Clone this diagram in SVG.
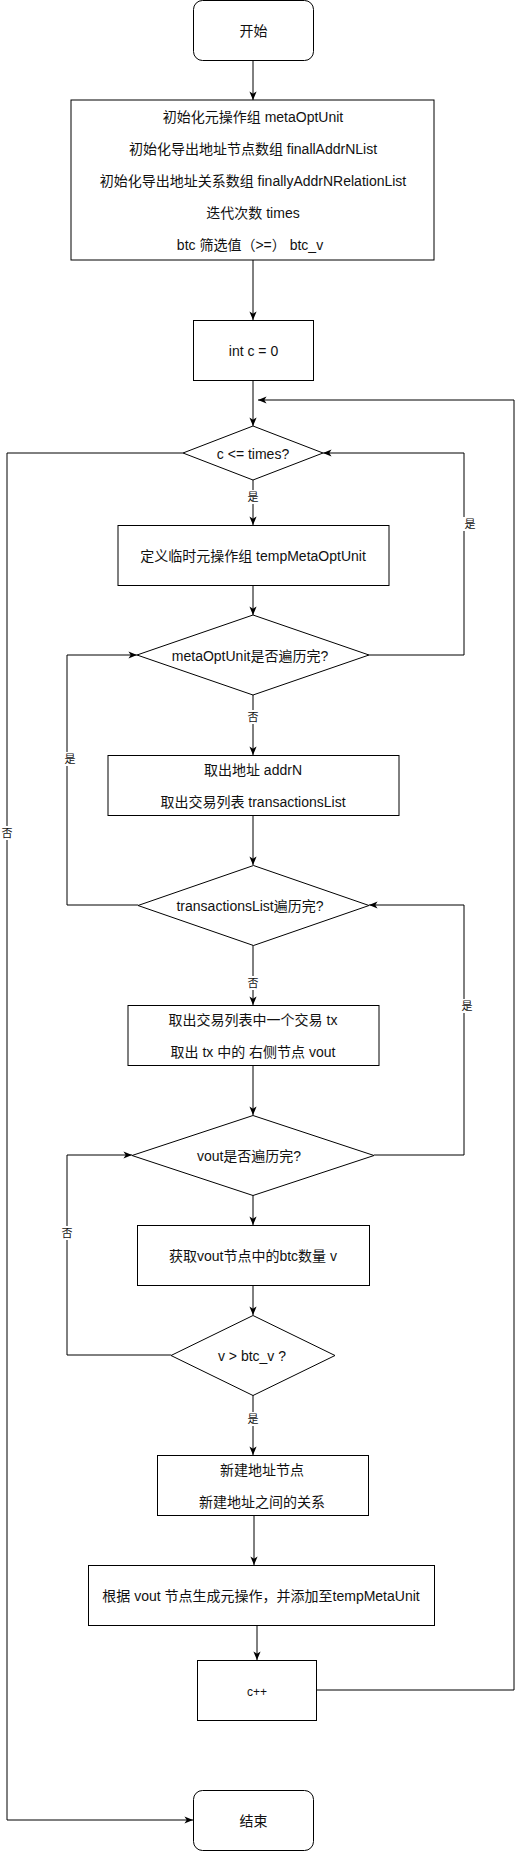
<svg xmlns="http://www.w3.org/2000/svg" width="526" height="1851" viewBox="0 0 526 1851">
<defs>
<marker id="arr" viewBox="0 0 10 10" refX="10" refY="5" markerWidth="9" markerHeight="9" markerUnits="userSpaceOnUse" orient="auto">
<path d="M0.5,1 L10,5 L0.5,9 L3,5 z" fill="#000"/>
</marker>
<style>
.n{fill:#fff;stroke:#000;stroke-width:1}
.t{font-family:"Liberation Sans","Noto Sans CJK SC",sans-serif;font-size:14px;fill:#111;text-anchor:middle;dominant-baseline:central}
.e{fill:none;stroke:#000;stroke-width:1;marker-end:url(#arr)}
.l{font-family:"Liberation Sans","Noto Sans CJK SC",sans-serif;font-size:11px;fill:#111;text-anchor:middle;dominant-baseline:central}
.lb{fill:#fff}
</style>
</defs>
<rect width="526" height="1851" fill="#fff"/>
<g id="connectors">
<path class="e" d="M253,60 V100"/>
<path class="e" d="M253,260 V320"/>
<path class="e" d="M253,380 V426"/>
<path class="e" d="M253,480 V525"/>
<path class="e" d="M253,585 V615"/>
<path class="e" d="M369,655 H464 V453 H323"/>
<path class="e" d="M253,695 V755"/>
<path class="e" d="M253,815 V865"/>
<path class="e" d="M138,905 H67 V655 H137"/>
<path class="e" d="M253,945 V1005"/>
<path class="e" d="M253,1065 V1115"/>
<path class="e" d="M374,1155 H464 V905 H369"/>
<path class="e" d="M253,1195 V1225"/>
<path class="e" d="M253,1285 V1315"/>
<path class="e" d="M171,1355 H67 V1155 H132"/>
<path class="e" d="M253,1395 V1455"/>
<path class="e" d="M254,1515 V1565"/>
<path class="e" d="M257,1625 V1660"/>
<path class="e" d="M317,1690 H514 V400 H258"/>
<path class="e" d="M183,453 H7 V1820 H193"/>
<rect class="lb" x="246" y="490" width="14" height="14"/><text class="l" x="253" y="497">是</text>
<rect class="lb" x="463" y="517" width="14" height="14"/><text class="l" x="470" y="524">是</text>
<rect class="lb" x="246" y="710" width="14" height="14"/><text class="l" x="253" y="717">否</text>
<rect class="lb" x="63" y="752" width="14" height="14"/><text class="l" x="70" y="759">是</text>
<rect class="lb" x="246" y="976" width="14" height="14"/><text class="l" x="253" y="983">否</text>
<rect class="lb" x="460" y="999" width="14" height="14"/><text class="l" x="467" y="1006">是</text>
<rect class="lb" x="60" y="1226" width="14" height="14"/><text class="l" x="67" y="1233">否</text>
<rect class="lb" x="246" y="1412" width="14" height="14"/><text class="l" x="253" y="1419">是</text>
<rect class="lb" x="0" y="826" width="14" height="14"/><text class="l" x="7" y="833">否</text>
</g>
<g id="start"><rect class="n" x="193.5" y="0.5" width="120" height="60" rx="9"/><text class="t" x="253.5" y="31">开始</text></g>
<g id="init"><rect class="n" x="71" y="100" width="363" height="160"/>
<text class="t" x="253" y="117">初始化元操作组 metaOptUnit</text>
<text class="t" x="253" y="149">初始化导出地址节点数组 finallAddrNList</text>
<text class="t" x="253" y="181">初始化导出地址关系数组 finallyAddrNRelationList</text>
<text class="t" x="253" y="213">迭代次数 times</text>
<text class="t" x="250" y="245">btc 筛选值（&gt;=） btc_v</text></g>
<g id="intc"><rect class="n" x="193.5" y="320.5" width="120" height="60"/><text class="t" x="253.5" y="351">int c = 0</text></g>
<g id="cond-times"><polygon class="n" points="253,426 323,453 253,480 183,453"/><text class="t" x="253" y="454">c &lt;= times?</text></g>
<g id="temp"><rect class="n" x="118" y="525.5" width="271" height="60"/><text class="t" x="253" y="556">定义临时元操作组 tempMetaOptUnit</text></g>
<g id="cond-meta"><polygon class="n" points="253,615 369,655 253,695 137,655"/><text class="t" x="250" y="656">metaOptUnit是否遍历完?</text></g>
<g id="addrN"><rect class="n" x="108" y="755.5" width="291" height="60"/>
<text class="t" x="253" y="770">取出地址 addrN</text>
<text class="t" x="253" y="802">取出交易列表 transactionsList</text></g>
<g id="cond-tx"><polygon class="n" points="253.5,865.5 369,905.5 253.5,945.5 138,905.5"/><text class="t" x="250" y="906">transactionsList遍历完?</text></g>
<g id="tx"><rect class="n" x="128" y="1005.5" width="251" height="60"/>
<text class="t" x="253" y="1020">取出交易列表中一个交易 tx</text>
<text class="t" x="253" y="1052">取出 tx 中的 右侧节点 vout</text></g>
<g id="cond-vout"><polygon class="n" points="253,1115.5 374,1155.5 253,1195.5 132,1155.5"/><text class="t" x="249" y="1156">vout是否遍历完?</text></g>
<g id="getv"><rect class="n" x="137.5" y="1225.5" width="232" height="60"/><text class="t" x="253" y="1256">获取vout节点中的btc数量 v</text></g>
<g id="cond-v"><polygon class="n" points="253,1315.5 335,1355.5 253,1395.5 171,1355.5"/><text class="t" x="252" y="1356">v &gt; btc_v ?</text></g>
<g id="newaddr"><rect class="n" x="157.5" y="1455.5" width="211" height="60"/>
<text class="t" x="262" y="1470">新建地址节点</text>
<text class="t" x="262" y="1502">新建地址之间的关系</text></g>
<g id="gen"><rect class="n" x="88.5" y="1565.5" width="346" height="60"/><text class="t" x="261" y="1596">根据 vout 节点生成元操作，并添加至tempMetaUnit</text></g>
<g id="cinc"><rect class="n" x="197.5" y="1660.5" width="119" height="60"/><text class="t" x="257" y="1692" style="font-size:12px">c++</text></g>
<g id="end"><rect class="n" x="193.5" y="1790.5" width="120" height="60" rx="9"/><text class="t" x="253.5" y="1821">结束</text></g>
</svg>
